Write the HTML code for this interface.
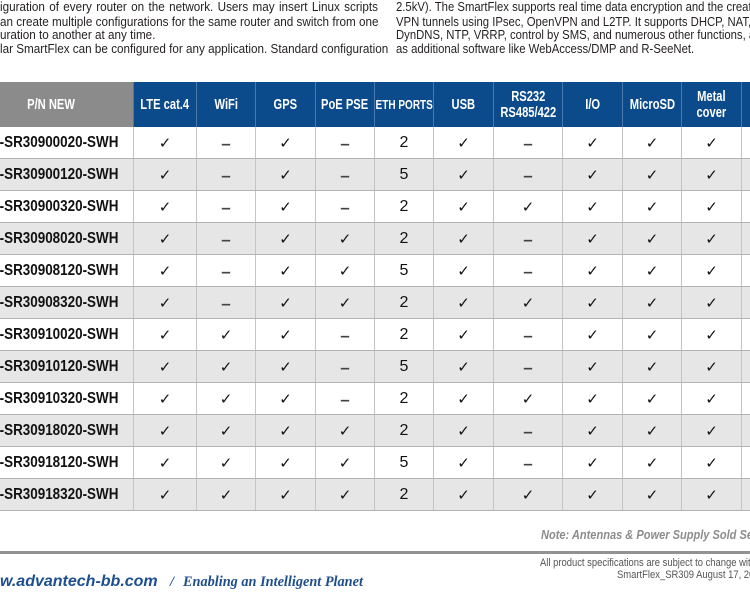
<!DOCTYPE html>
<html><head><meta charset="utf-8">
<style>
html,body{margin:0;padding:0;background:#fff;}
body{width:750px;height:608px;position:relative;overflow:hidden;font-family:"Liberation Sans",sans-serif;}
.t{position:absolute;font-size:13px;line-height:15px;color:#231f20;white-space:nowrap;transform:scaleX(0.9);transform-origin:0 0;}
.t.rc{transform:scaleX(0.87);}
.j{width:420px;text-align:justify;text-align-last:justify;}
.clip{position:absolute;left:0;top:0;width:750px;height:608px;overflow:hidden;}
.hd{position:absolute;top:82px;left:0;width:750px;height:45px;display:grid;grid-template-columns:133px 63px 59px 60px 59px 59px 60px 69px 60px 59px 60px 9px;background:#0b4a8b;}
.hd>div{border-left:1px solid #4a78ab;display:flex;align-items:center;justify-content:center;color:#fff;text-align:center;overflow:hidden;}
.hd>div:first-child{background:#8b8b8b;border-left:none;padding-right:31px;}
.hd span{display:inline-block;font-weight:bold;font-size:14.5px;line-height:16px;transform:scaleX(0.77);white-space:nowrap;}
.r{position:absolute;left:0;width:750px;height:32px;box-sizing:border-box;border-bottom:1px solid #b3b3b3;display:grid;grid-template-columns:133px 63px 59px 60px 59px 59px 60px 69px 60px 59px 60px 9px;background:#fff;}
.r.g{background:#e6e6e6;}
.r>div{border-left:1px solid #c4c4c4;display:flex;align-items:center;justify-content:center;font-family:"DejaVu Sans",sans-serif;font-size:15px;color:#111;}
.r>div:first-child{border-left:none;justify-content:flex-end;padding-right:15px;}
.p{display:inline-block;font-family:"Liberation Sans",sans-serif;font-weight:bold;font-size:16px;color:#111;transform:scaleX(0.84);transform-origin:100% 50%;white-space:nowrap;}
.r>div.d{font-family:"Liberation Sans",sans-serif;font-weight:bold;font-size:17px;color:#444;padding-top:3px;}
.r>div.n{font-family:"Liberation Sans",sans-serif;font-size:16px;color:#111;}
.note{position:absolute;left:541px;top:527px;font-size:13px;line-height:16px;font-weight:bold;font-style:italic;color:#8c8c8c;white-space:nowrap;transform:scaleX(0.85);transform-origin:0 0;}
.bar{position:absolute;left:0;top:551px;width:750px;height:3px;background:#929292;}
.sm{position:absolute;font-size:11px;line-height:12px;color:#555;white-space:nowrap;transform:scaleX(0.857);transform-origin:0 0;}
.url{position:absolute;left:0;top:573px;font-size:16px;line-height:18px;font-weight:bold;font-style:italic;color:#1d4e8f;white-space:nowrap;}
.tag{position:absolute;top:574px;font-family:"Liberation Serif",serif;font-size:14.3px;line-height:16px;font-weight:bold;font-style:italic;color:#1f4e8c;white-space:nowrap;}
</style></head><body>
<div class="clip">
<div class="t j" style="left:0;top:-1px">iguration of every router on the network. Users may insert Linux scripts</div>
<div class="t j" style="left:0;top:13.7px">an create multiple configurations for the same router and switch from one</div>
<div class="t" style="left:0;top:27.2px">uration to another at any time.</div>
<div class="t j" style="left:0;top:40.5px">lar SmartFlex can be configured for any application. Standard configuration</div>

<div class="t rc" style="left:396px;top:-1px">2.5kV). The SmartFlex supports real time data encryption and the creat</div>
<div class="t rc" style="left:396px;top:13.7px">VPN tunnels using IPsec, OpenVPN and L2TP. It supports DHCP, NAT,</div>
<div class="t rc" style="left:396px;top:27.2px">DynDNS, NTP, VRRP, control by SMS, and numerous other functions, a</div>
<div class="t rc" style="left:396px;top:40.5px">as additional software like WebAccess/DMP and R-SeeNet.</div>

<div class="hd">
<div><span>P/N NEW</span></div>
<div><span>LTE cat.4</span></div>
<div><span>WiFi</span></div>
<div><span>GPS</span></div>
<div><span>PoE PSE</span></div>
<div><span style="font-size:13px">ETH PORTS</span></div>
<div><span>USB</span></div>
<div><span>RS232<br>RS485/422</span></div>
<div><span>I/O</span></div>
<div><span>MicroSD</span></div>
<div><span>Metal<br>cover</span></div>
<div></div>
</div>

<div class="r" style="top:127px"><div><span class="p">-SR30900020-SWH</span></div><div>✓</div><div class="d">–</div><div>✓</div><div class="d">–</div><div class="n">2</div><div>✓</div><div class="d">–</div><div>✓</div><div>✓</div><div>✓</div><div></div></div>
<div class="r g" style="top:159px"><div><span class="p">-SR30900120-SWH</span></div><div>✓</div><div class="d">–</div><div>✓</div><div class="d">–</div><div class="n">5</div><div>✓</div><div class="d">–</div><div>✓</div><div>✓</div><div>✓</div><div></div></div>
<div class="r" style="top:191px"><div><span class="p">-SR30900320-SWH</span></div><div>✓</div><div class="d">–</div><div>✓</div><div class="d">–</div><div class="n">2</div><div>✓</div><div>✓</div><div>✓</div><div>✓</div><div>✓</div><div></div></div>
<div class="r g" style="top:223px"><div><span class="p">-SR30908020-SWH</span></div><div>✓</div><div class="d">–</div><div>✓</div><div>✓</div><div class="n">2</div><div>✓</div><div class="d">–</div><div>✓</div><div>✓</div><div>✓</div><div></div></div>
<div class="r" style="top:255px"><div><span class="p">-SR30908120-SWH</span></div><div>✓</div><div class="d">–</div><div>✓</div><div>✓</div><div class="n">5</div><div>✓</div><div class="d">–</div><div>✓</div><div>✓</div><div>✓</div><div></div></div>
<div class="r g" style="top:287px"><div><span class="p">-SR30908320-SWH</span></div><div>✓</div><div class="d">–</div><div>✓</div><div>✓</div><div class="n">2</div><div>✓</div><div>✓</div><div>✓</div><div>✓</div><div>✓</div><div></div></div>
<div class="r" style="top:319px"><div><span class="p">-SR30910020-SWH</span></div><div>✓</div><div>✓</div><div>✓</div><div class="d">–</div><div class="n">2</div><div>✓</div><div class="d">–</div><div>✓</div><div>✓</div><div>✓</div><div></div></div>
<div class="r g" style="top:351px"><div><span class="p">-SR30910120-SWH</span></div><div>✓</div><div>✓</div><div>✓</div><div class="d">–</div><div class="n">5</div><div>✓</div><div class="d">–</div><div>✓</div><div>✓</div><div>✓</div><div></div></div>
<div class="r" style="top:383px"><div><span class="p">-SR30910320-SWH</span></div><div>✓</div><div>✓</div><div>✓</div><div class="d">–</div><div class="n">2</div><div>✓</div><div>✓</div><div>✓</div><div>✓</div><div>✓</div><div></div></div>
<div class="r g" style="top:415px"><div><span class="p">-SR30918020-SWH</span></div><div>✓</div><div>✓</div><div>✓</div><div>✓</div><div class="n">2</div><div>✓</div><div class="d">–</div><div>✓</div><div>✓</div><div>✓</div><div></div></div>
<div class="r" style="top:447px"><div><span class="p">-SR30918120-SWH</span></div><div>✓</div><div>✓</div><div>✓</div><div>✓</div><div class="n">5</div><div>✓</div><div class="d">–</div><div>✓</div><div>✓</div><div>✓</div><div></div></div>
<div class="r g" style="top:479px"><div><span class="p">-SR30918320-SWH</span></div><div>✓</div><div>✓</div><div>✓</div><div>✓</div><div class="n">2</div><div>✓</div><div>✓</div><div>✓</div><div>✓</div><div>✓</div><div></div></div>

<div class="note">Note: Antennas &amp; Power Supply Sold Se</div>
<div class="bar"></div>
<div class="sm" style="left:540px;top:557px">All product specifications are subject to change wit</div>
<div class="sm" style="left:617px;top:569px">SmartFlex_SR309 August 17, 20</div>
<div class="url">w.advantech-bb.com</div>
<div class="tag" style="left:170px">/</div>
<div class="tag" style="left:183px">Enabling an Intelligent Planet</div>
</div>
</body></html>
